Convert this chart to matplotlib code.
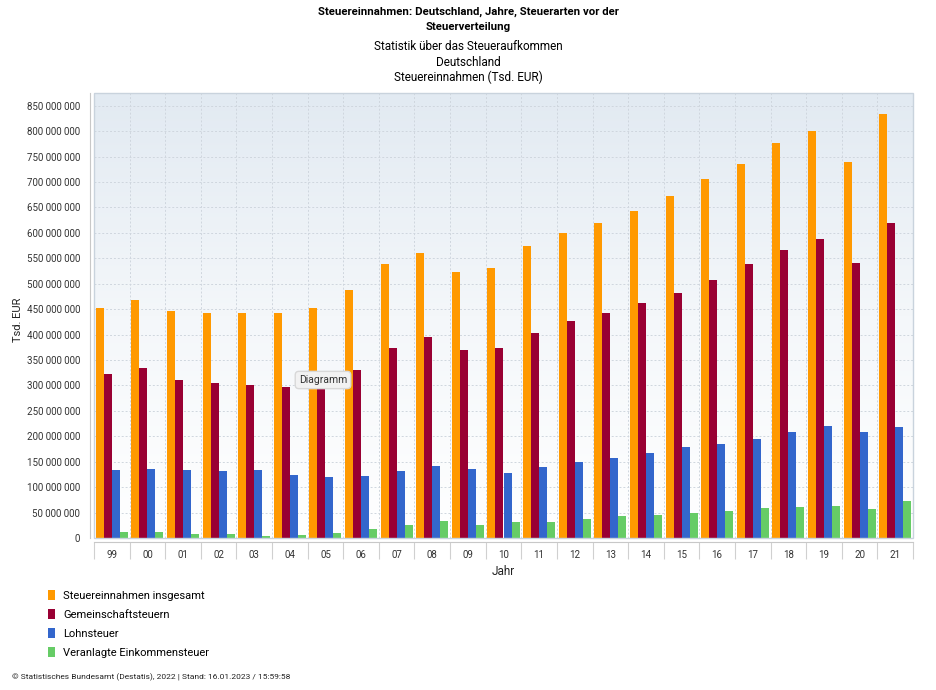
import numpy as np
import matplotlib
matplotlib.use("Agg")
import matplotlib.pyplot as plt
from matplotlib.patches import Patch, Rectangle
from matplotlib.colors import LinearSegmentedColormap
from matplotlib.ticker import FuncFormatter, MultipleLocator, FixedLocator

plt.rcParams['font.family'] = ['Roboto', 'DejaVu Sans']

# Data (Tsd. EUR)
years = ["99", "00", "01", "02", "03", "04", "05", "06", "07", "08", "09", "10",
         "11", "12", "13", "14", "15", "16", "17", "18", "19", "20", "21"]
insgesamt = [453068000, 467253000, 446248000, 441703000, 442238000, 442838000,
             452078000, 488444000, 538243000, 561182000, 524000000, 530587000,
             573352000, 600046000, 619708000, 643624000, 673276000, 705791000,
             734540000, 776314000, 799308000, 739703000, 833189000]
gemeinschaft = [322000000, 334000000, 310000000, 304000000, 300000000, 296500000,
                300000000, 330000000, 374000000, 396000000, 370500000, 373000000,
                403000000, 426000000, 443000000, 462000000, 482600000, 508000000,
                538500000, 566700000, 587000000, 540500000, 620000000]
lohnsteuer = [134000000, 136000000, 133000000, 132000000, 133000000, 124000000,
              119000000, 122600000, 131800000, 141900000, 135200000, 127900000,
              139700000, 149100000, 158200000, 167800000, 178900000, 184800000,
              195500000, 208200000, 219700000, 209300000, 218400000]
einkommen = [11100000, 12200000, 8800000, 7500000, 4600000, 5400000,
             9800000, 17600000, 25000000, 32700000, 26400000, 31200000,
             32000000, 37300000, 42300000, 45600000, 48600000, 53800000,
             59400000, 60400000, 63700000, 58000000, 72300000]

series = [
    ("Steuereinnahmen insgesamt", insgesamt, "#ff9900"),
    ("Gemeinschaftsteuern", gemeinschaft, "#990033"),
    ("Lohnsteuer", lohnsteuer, "#3366cc"),
    ("Veranlagte Einkommensteuer", einkommen, "#66cc66"),
]

fig = plt.figure(figsize=(9.36, 6.9), dpi=100)
ax = fig.add_axes([94/936, 1-538/690, 819/936, 445/690])

ymax = 875000000
x = np.arange(len(years))
ax.set_xlim(-0.5, len(years) - 0.5)
ax.set_ylim(0, ymax)

# background gradient
cmap = LinearSegmentedColormap.from_list("bg", ["#ffffff", "#f4f7fa", "#e2eaf2"])
grad = np.linspace(0, 1, 256).reshape(-1, 1)
ax.imshow(grad, extent=[-0.5, len(years) - 0.5, 0, ymax], origin="lower",
          aspect="auto", cmap=cmap, zorder=0)

# grid
for v in range(50000000, 900000000, 50000000):
    ax.axhline(v, color="#cfd6de", lw=0.7, ls=(0, (2, 2)), zorder=1)
for b in range(1, len(years)):
    ax.axvline(b - 0.5, color="#cfd6de", lw=0.7, ls=(0, (2, 2)), zorder=1)

w = 0.225
offs = [-1.5 * w, -0.5 * w, 0.5 * w, 1.5 * w]
for (name, vals, col), o in zip(series, offs):
    ax.bar(x + o, vals, width=w, color=col, zorder=2, linewidth=0)

# frame
ax.add_patch(Rectangle((0, 0), 1, 1, transform=ax.transAxes, fill=False,
                       edgecolor="#c9d3dd", lw=1, zorder=3, clip_on=False))
for s in ["top", "right"]:
    ax.spines[s].set_visible(False)
ax.spines["left"].set_position(("outward", 3))
ax.spines["bottom"].set_position(("outward", 3))
ax.spines["left"].set_color("#c8c8c8")
ax.spines["bottom"].set_color("#c8c8c8")

ax.yaxis.set_major_locator(MultipleLocator(50000000))
ax.yaxis.set_major_formatter(FuncFormatter(lambda v, p: f"{int(v):,}".replace(",", " ")))
ax.tick_params(axis="y", length=0, labelsize=7, colors="#333333", pad=7)

ax.set_xticks(x)
ax.set_xticklabels(years)
ax.xaxis.set_minor_locator(FixedLocator(np.arange(-0.5, len(years), 1.0)))
ax.tick_params(axis="x", which="major", length=0, labelsize=7, colors="#333333", pad=6)
ax.tick_params(axis="x", which="minor", length=12, color="#d0d0d0", width=0.8)

ax.set_ylabel("Tsd. EUR", fontsize=8, color="#222222")
ax.set_xlabel("Jahr", fontsize=8.5, color="#222222")
ax.yaxis.set_label_coords((23 - 94) / 819, 0.49)
ax.xaxis.set_label_coords((503 - 94) / 819, -(565 - 538) / 445)

# titles
cond = ['Liberation Sans Narrow', 'Roboto', 'DejaVu Sans']
fig.text(0.5, 1-12/690, "Steuereinnahmen: Deutschland, Jahre, Steuerarten vor der",
         ha="center", va="center", fontsize=8.2, fontweight="bold", family=cond)
fig.text(0.5, 1-27/690, "Steuerverteilung", ha="center", va="center",
         fontsize=8.2, fontweight="bold", family=cond)
for yy, t in [(47, "Statistik über das Steueraufkommen"), (62, "Deutschland"),
              (77, "Steuereinnahmen (Tsd. EUR)")]:
    fig.text(0.5, 1-yy/690, t, ha="center", va="center", fontsize=8.5, family=cond)

# legend
handles = [Patch(facecolor=c, label=n) for n, _, c in series]
fig.legend(handles=handles, loc="upper left", bbox_to_anchor=(44/936, 1-586/690),
           frameon=False, fontsize=8, handlelength=0.55, handleheight=1.0,
           handletextpad=0.8, labelspacing=0.72, borderaxespad=0)

fig.text(12/936, 1-677/690,
         "© Statistisches Bundesamt (Destatis), 2022 | Stand: 16.01.2023 / 15:59:58",
         ha="left", va="center", fontsize=6, family=cond, color="#222222")

# tooltip as in screenshot
fig.text(323/936, 1-380/690, "Diagramm", ha="center", va="center", fontsize=7.5,
         color="#333333",
         bbox=dict(boxstyle="round,pad=0.35", facecolor="#f2f2f2", edgecolor="#d8d8d8"))

fig.savefig("out.png", dpi=100)
